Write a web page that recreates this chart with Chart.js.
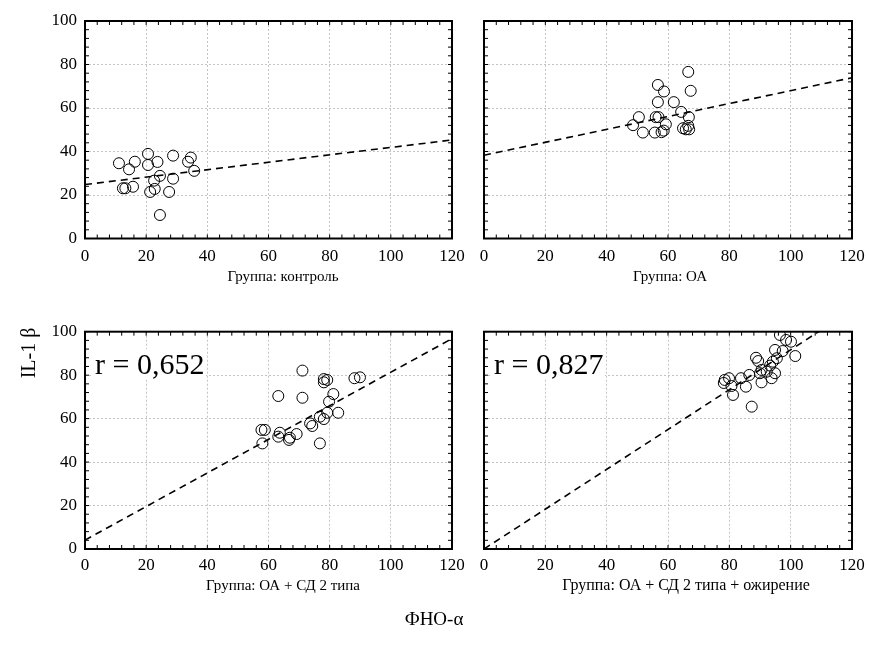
<!DOCTYPE html>
<html>
<head>
<meta charset="utf-8">
<script src="https://cdn.jsdelivr.net/npm/chart.js@4.4.0/dist/chart.umd.min.js"></script>
<style>
    body { margin: 0; background: #fff; }
    #wrapper { position: relative; width: 869px; height: 652px; background: #fff; font-family: "Liberation Serif", "Times New Roman", serif; color: #000; }
    canvas { position: absolute; }
    .lbl { position: absolute; white-space: nowrap; transform: translate(-50%, -50%); }
    .rlbl { position: absolute; white-space: nowrap; background: #fff; line-height: 30px; padding: 0 2px; }
</style>
</head>
<body>
<div id="wrapper">
    <canvas id="c1" width="468" height="300" style="left:0;top:0"></canvas>
    <canvas id="c2" width="429" height="300" style="left:440px;top:0"></canvas>
    <canvas id="c3" width="468" height="300" style="left:0;top:310px"></canvas>
    <canvas id="c4" width="429" height="300" style="left:440px;top:310px"></canvas>
</div>
<script>
"use strict"

const groupNames = ["Группа: контроль", "Группа: ОА", "Группа: ОА + СД 2 типа", "Группа: ОА + СД 2 типа + ожирение"];
const xTitle = "ФНО-α";
const yTitle = "IL-1 β";
const rLabels = ["", "", "r = 0,652", "r = 0,827"];
const xTicks = [0, 20, 40, 60, 80, 100, 120];
const yTicks = [0, 20, 40, 60, 80, 100];

const controlX = [11.1, 14.4, 16.3, 20.6, 20.6, 23.7, 28.8, 34.6, 33.7, 35.7, 24.5, 22.6, 28.8, 12.4, 13.2, 15.7, 22.8, 21.3, 27.5, 24.5];
const controlY = [34.6, 31.8, 35.3, 38.9, 33.8, 35.2, 38.1, 37.2, 35.3, 31.1, 28.8, 26.6, 27.5, 23.1, 23.1, 23.8, 22.8, 21.4, 21.4, 10.8];

const oaX = [66.6, 56.7, 58.7, 67.4, 56.7, 61.9, 64.3, 50.5, 56.0, 56.9, 66.8, 48.6, 59.3, 66.6, 51.8, 55.7, 57.9, 58.6, 64.9, 66.9, 65.8];
const oaY = [76.6, 70.6, 67.6, 67.9, 62.7, 62.7, 58.2, 55.8, 55.8, 55.8, 55.8, 52.1, 52.5, 51.8, 48.7, 48.7, 48.9, 49.6, 50.7, 50.2, 50.2];

const oaSdX = [71.1, 78.1, 79.2, 78.1, 88.1, 89.9, 63.2, 71.1, 81.2, 79.8, 79.2, 82.8, 76.8, 78.1, 73.6, 74.3, 57.7, 58.8, 58.0, 63.2, 63.7, 67.0, 66.7, 69.2, 76.8];
const oaSdY = [82.1, 78.2, 77.8, 76.7, 78.6, 79.0, 70.4, 69.6, 71.3, 67.8, 62.7, 62.7, 60.9, 59.8, 57.8, 56.6, 54.8, 54.8, 48.6, 51.7, 53.5, 51.2, 50.2, 52.9, 48.6];

const oaSdObX = [96.5, 98.5, 100.1, 94.9, 97.4, 101.5, 88.7, 89.4, 95.5, 94.2, 93.3, 90.5, 86.5, 90.0, 92.2, 93.8, 94.9, 90.5, 83.8, 85.4, 78.5, 79.9, 80.7, 81.2, 87.3, 78.2];
const oaSdObY = [98.5, 96.2, 95.4, 91.6, 91.1, 88.8, 88.0, 86.5, 87.8, 86.2, 84.4, 82.4, 80.1, 80.9, 81.6, 78.6, 80.9, 76.7, 78.6, 74.7, 77.8, 78.6, 75.0, 70.9, 65.5, 76.4];

const fitX = [0, 120];
const controlFit = [24.8, 45.3];
const oaFit = [38.3, 73.9];
const oaSdFit = [4.1, 96.8];
const oaSdObFit = [0, 110];

// рамка и засечки внутрь
const frame = {
    id: "frame",
    afterDatasetsDraw(chart) {
        let ctx = chart.ctx;
        let a = chart.chartArea;
        let sx = chart.scales.x;
        let sy = chart.scales.y;
        ctx.save();
        ctx.strokeStyle = "#000";
        ctx.lineWidth = 1;
        ctx.beginPath();
        for (let v = 0; v <= 120; v += 4) {
            let p = sx.getPixelForValue(v);
            ctx.moveTo(p, a.bottom);
            ctx.lineTo(p, a.bottom - 4);
            ctx.moveTo(p, a.top);
            ctx.lineTo(p, a.top + 4);
        }
        for (let v = 0; v <= 100; v += 4) {
            let p = sy.getPixelForValue(v);
            ctx.moveTo(a.left, p);
            ctx.lineTo(a.left + 4, p);
            ctx.moveTo(a.right, p);
            ctx.lineTo(a.right - 4, p);
        }
        ctx.stroke();
        ctx.lineWidth = 2;
        ctx.strokeRect(a.left, a.top, a.width, a.height);
        ctx.restore();
    }
};

function creaGrafico(id, xs, ys, fit, yWidth, padTop, padRight, xHeight, showY, xPad) {
    let punti = xs.map((x, i) => ({ x: x, y: ys[i] }));
    let linea = fitX.map((x, i) => ({ x: x, y: fit[i] }));
    return new Chart(document.getElementById(id), {
        type: "scatter",
        data: {
            datasets: [{
                data: linea,
                showLine: true,
                borderColor: "#000",
                borderWidth: 1.6,
                borderDash: [7, 5],
                pointRadius: 0
            }, {
                data: punti,
                pointRadius: 5.5,
                pointBorderWidth: 1,
                pointBorderColor: "#000",
                pointBackgroundColor: "rgba(255,255,255,0)"
            }]
        },
        options: {
            responsive: false,
            animation: false,
            devicePixelRatio: 1,
            layout: { padding: { top: padTop, right: padRight, left: 0, bottom: 0 } },
            plugins: { legend: { display: false }, tooltip: { enabled: false } },
            scales: {
                x: {
                    type: "linear", min: 0, max: 120,
                    afterBuildTicks: s => { s.ticks = xTicks.map(v => ({ value: v })); },
                    afterFit: s => { s.height = xHeight; s.paddingLeft = 0; s.paddingRight = 0; },
                    ticks: { color: "#000", padding: xPad, maxRotation: 0, font: { family: "Liberation Serif", size: 17 } },
                    grid: { color: "#c4c4c4", lineWidth: 1, drawTicks: false },
                    border: { display: false, dash: [2, 2] }
                },
                y: {
                    type: "linear", min: 0, max: 100,
                    afterBuildTicks: s => { s.ticks = yTicks.map(v => ({ value: v })); },
                    afterFit: s => { s.width = yWidth; s.paddingTop = 0; s.paddingBottom = 0; },
                    ticks: { display: showY, color: "#000", padding: 8, font: { family: "Liberation Serif", size: 17 } },
                    grid: { color: "#c4c4c4", lineWidth: 1, drawTicks: false },
                    border: { display: false, dash: [2, 2] }
                }
            }
        },
        plugins: [frame]
    });
}

creaGrafico("c1", controlX, controlY, controlFit, 85, 21, 16, 61.5, true, 8);
creaGrafico("c2", oaX, oaY, oaFit, 44, 21, 17, 61.5, false, 8);
creaGrafico("c3", oaSdX, oaSdY, oaSdFit, 85, 21.7, 16, 61, true, 6);
creaGrafico("c4", oaSdObX, oaSdObY, oaSdObFit, 44, 21.7, 17, 61, false, 6);

// testi
let wrapper = document.getElementById("wrapper");
function testo(t, x, y, size, cls, rot) {
    let d = document.createElement("div");
    d.className = cls;
    d.textContent = t;
    d.style.left = x + "px";
    d.style.top = y + "px";
    d.style.fontSize = size + "px";
    if (rot) d.style.transform = "translate(-50%, -50%) rotate(-90deg)";
    wrapper.appendChild(d);
    return d;
}
testo(groupNames[0], 283, 276, 15, "lbl");
testo(groupNames[1], 670, 276, 15, "lbl");
testo(groupNames[2], 283, 585, 15, "lbl");
testo(groupNames[3], 686, 585, 16, "lbl");
testo(xTitle, 434, 619, 19, "lbl");
testo(yTitle, 28, 353, 20, "lbl", true);

testo(rLabels[2], 93, 349, 30, "rlbl");
testo(rLabels[3], 492, 349, 30, "rlbl");
</script>
</body>
</html>
